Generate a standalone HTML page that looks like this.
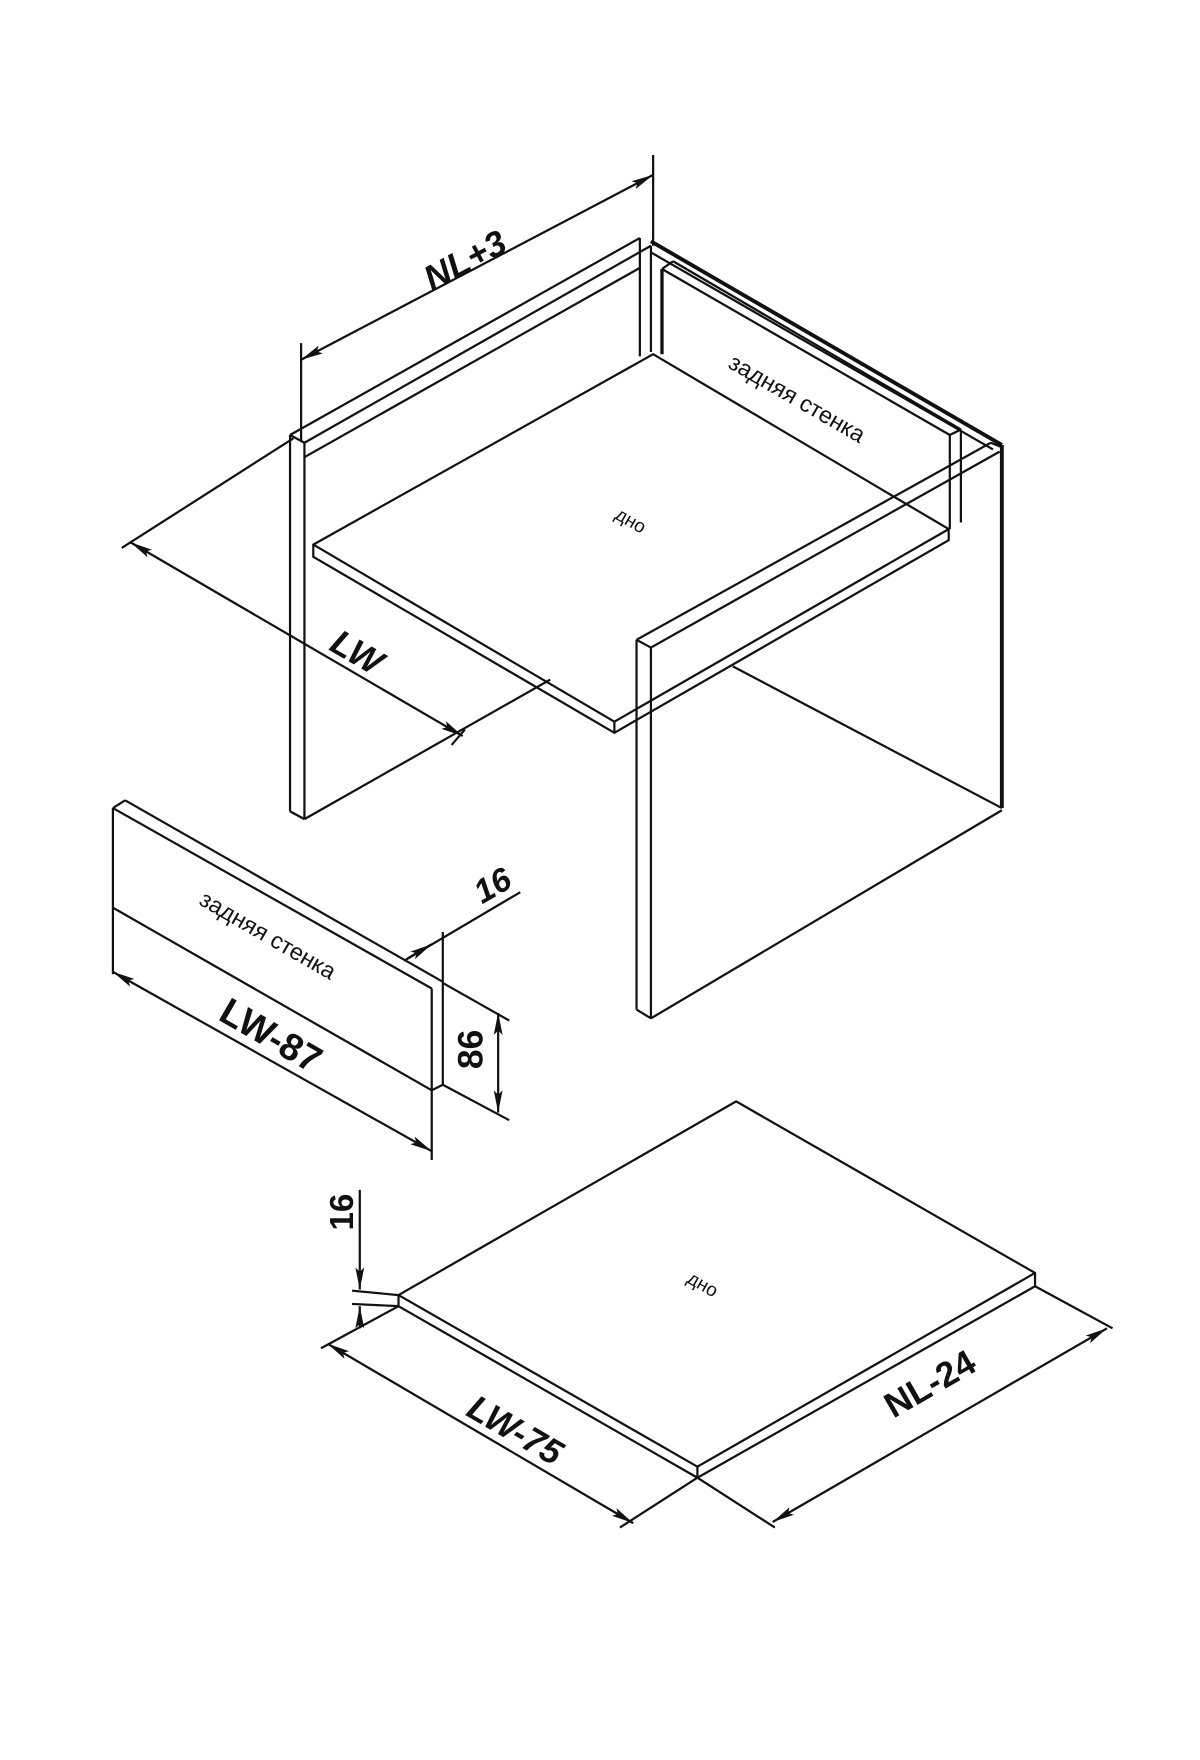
<!DOCTYPE html>
<html><head><meta charset="utf-8"><style>
html,body{margin:0;padding:0;background:#fff;}
svg{display:block;}
text{font-family:"Liberation Sans",sans-serif;fill:#111;}
</style></head><body>
<svg width="1200" height="1760" viewBox="0 0 1084 1590" preserveAspectRatio="none" xmlns="http://www.w3.org/2000/svg">
<defs>
<marker id="a" viewBox="0 0 20 8" refX="20" refY="4" markerWidth="20" markerHeight="8" markerUnits="userSpaceOnUse" orient="auto-start-reverse">
<path d="M0,0 L20,4 L0,8 L4,4 Z" fill="#111"/></marker>
</defs>
<g stroke="#111" stroke-width="2" fill="none" stroke-linejoin="round">
<line x1="590" y1="140" x2="590" y2="222"/>
<line x1="272" y1="310" x2="272" y2="398"/>
<line x1="272" y1="325" x2="590" y2="158" marker-start="url(#a)" marker-end="url(#a)"/>
<line x1="110" y1="495" x2="265" y2="396"/>
<line x1="118" y1="490" x2="418" y2="665" marker-start="url(#a)" marker-end="url(#a)"/>
<line x1="275" y1="740" x2="497" y2="614"/>
<line x1="408" y1="673" x2="420" y2="659"/>
<line x1="262" y1="393" x2="262" y2="733"/>
<line x1="275" y1="400" x2="275" y2="740"/>
<line x1="262" y1="733" x2="275" y2="740"/>
<line x1="262" y1="393" x2="275" y2="400"/>
<line x1="262" y1="393" x2="578" y2="215"/>
<line x1="275" y1="400" x2="588" y2="222"/>
<line x1="275" y1="413" x2="578" y2="242"/>
<line x1="578" y1="215" x2="578" y2="322"/>
<line x1="588" y1="222" x2="588" y2="318"/>
<line x1="588" y1="218" x2="905" y2="402" stroke-width="3.5"/>
<line x1="588" y1="228" x2="897" y2="406"/>
<line x1="598" y1="243" x2="858" y2="393"/>
<line x1="608" y1="236" x2="868" y2="388"/>
<line x1="598" y1="243" x2="608" y2="236"/>
<line x1="598" y1="243" x2="598" y2="320" stroke-width="3"/>
<line x1="858" y1="393" x2="858" y2="478"/>
<line x1="868" y1="388" x2="868" y2="472"/>
<line x1="858" y1="393" x2="868" y2="388"/>
<polygon points="283,492 590,320 857,478 555,652"/>
<polyline points="283,492 283,503 555,662 857,488 857,478"/>
<line x1="555" y1="652" x2="555" y2="662"/>
<line x1="575" y1="578" x2="575" y2="912"/>
<line x1="588" y1="585" x2="588" y2="920"/>
<line x1="575" y1="578" x2="588" y2="585"/>
<line x1="575" y1="912" x2="588" y2="920"/>
<line x1="575" y1="578" x2="895" y2="400"/>
<line x1="588" y1="585" x2="903" y2="408"/>
<line x1="895" y1="400" x2="905" y2="404"/>
<line x1="905" y1="402" x2="905" y2="730" stroke-width="3.5"/>
<line x1="588" y1="920" x2="905" y2="732"/>
<line x1="662" y1="602" x2="905" y2="730"/>
<line x1="102" y1="730" x2="102" y2="880"/>
<line x1="102" y1="730" x2="113" y2="723"/>
<line x1="102" y1="730" x2="390" y2="893"/>
<line x1="113" y1="723" x2="400" y2="887"/>
<line x1="102" y1="820" x2="390" y2="985"/>
<line x1="390" y1="893" x2="390" y2="1048"/>
<line x1="400" y1="887" x2="400" y2="980"/>
<line x1="390" y1="985" x2="400" y2="980"/>
<line x1="400" y1="842" x2="400" y2="887"/>
<line x1="102" y1="878" x2="390" y2="1040" marker-start="url(#a)" marker-end="url(#a)"/>
<line x1="470" y1="806" x2="365" y2="868"/>
<line x1="368" y1="866" x2="390" y2="853" marker-end="url(#a)"/>
<line x1="400" y1="888" x2="460" y2="922"/>
<line x1="400" y1="980" x2="460" y2="1012"/>
<line x1="450" y1="915" x2="450" y2="1005" marker-start="url(#a)" marker-end="url(#a)"/>
<polygon points="360,1170 665,995 935,1150 630,1325"/>
<polyline points="360,1170 360,1180 630,1335 935,1162 935,1150"/>
<line x1="630" y1="1325" x2="630" y2="1335"/>
<line x1="318" y1="1166" x2="360" y2="1170"/>
<line x1="318" y1="1178" x2="360" y2="1180"/>
<line x1="325" y1="1075" x2="325" y2="1165" marker-end="url(#a)"/>
<line x1="325" y1="1200" x2="325" y2="1180" marker-end="url(#a)"/>
<line x1="360" y1="1180" x2="290" y2="1218"/>
<line x1="630" y1="1335" x2="560" y2="1380"/>
<line x1="296" y1="1214" x2="572" y2="1376" marker-start="url(#a)" marker-end="url(#a)"/>
<line x1="935" y1="1162" x2="1005" y2="1200"/>
<line x1="630" y1="1335" x2="700" y2="1380"/>
<line x1="1000" y1="1200" x2="698" y2="1375" marker-start="url(#a)" marker-end="url(#a)"/>
</g>
<text x="420" y="246" font-size="32" font-weight="bold" font-style="italic" text-anchor="middle" transform="rotate(-28 420 235)">NL+3</text>
<text x="322" y="600" font-size="32" font-weight="bold" font-style="italic" text-anchor="middle" transform="rotate(30 322 590)">LW</text>
<text x="570" y="476" font-size="17" text-anchor="middle" transform="rotate(30 570 470)">дно</text>
<text x="720" y="367" font-size="21" text-anchor="middle" transform="rotate(30 720 360)">задняя стенка</text>
<text x="242" y="852" font-size="21" text-anchor="middle" transform="rotate(30 242 845)">задняя стенка</text>
<text x="245" y="947" font-size="34" font-weight="bold" text-anchor="middle" transform="rotate(30 245 935)">LW-87</text>
<text x="445" y="810" font-size="30" font-weight="bold" font-style="italic" text-anchor="middle" transform="rotate(-30 445 800)">16</text>
<text x="425" y="959" font-size="32" font-weight="bold" text-anchor="middle" transform="rotate(-90 425 948)">86</text>
<text x="635" y="1166" font-size="17" text-anchor="middle" transform="rotate(30 635 1160)">дно</text>
<text x="308" y="1106" font-size="30" font-weight="bold" text-anchor="middle" transform="rotate(-90 308 1095)">16</text>
<text x="455" y="1300" font-size="32" font-weight="bold" font-style="italic" text-anchor="middle" transform="rotate(30 455 1310)">LW-75</text>
<text x="840" y="1261" font-size="32" font-weight="bold" text-anchor="middle" transform="rotate(-30 840 1250)">NL-24</text>
</svg>
</body></html>
